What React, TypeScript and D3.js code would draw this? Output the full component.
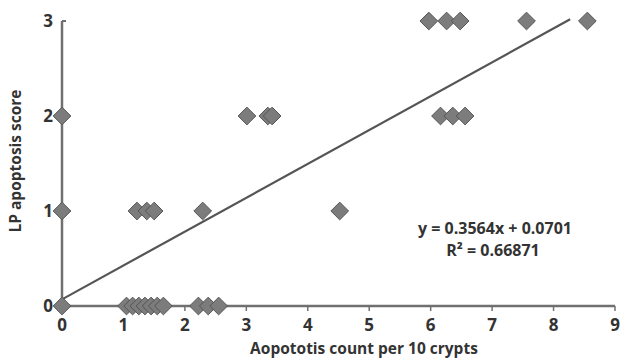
import * as d3 from "d3";

const apoptosisCount = [
  0, 0, 0,
  1.05, 1.15, 1.25, 1.35, 1.45, 1.55, 1.65, 2.22, 2.38, 2.55,
  1.22, 1.38, 1.5, 2.29, 4.52,
  3.01, 3.35, 3.42, 6.16, 6.36, 6.56,
  5.97, 6.26, 6.48, 7.56, 8.55,
];
const lpScore = [
  0, 1, 2,
  0, 0, 0, 0, 0, 0, 0, 0, 0, 0,
  1, 1, 1, 1, 1,
  2, 2, 2, 2, 2, 2,
  3, 3, 3, 3, 3,
];
const xTicks = [0, 1, 2, 3, 4, 5, 6, 7, 8, 9];
const yTicks = [0, 1, 2, 3];
const slope = 0.3564;
const intercept = 0.0701;
const trendEnd = 8.27;

export default function App() {
  const width = 620;
  const height = 360;
  const margin = { top: 21, right: 5, bottom: 54, left: 62 };

  const x = d3
    .scaleLinear()
    .domain([0, 9])
    .range([margin.left, width - margin.right]);
  const y = d3
    .scaleLinear()
    .domain([0, 3])
    .range([height - margin.bottom, margin.top]);

  const diamond = d3.symbol(d3.symbolDiamond2, 200)();
  const trend = d3
    .line<number>()
    .x((d) => x(d))
    .y((d) => y(slope * d + intercept));

  const font = "'Open Sans', 'Liberation Sans', sans-serif";
  const axisColor = "#707070";

  return (
    <svg
      width={width}
      height={height}
      style={{ position: "absolute", left: 0, top: 0, background: "#fff" }}
      fontFamily={font}
    >
      {/* axes */}
      <line x1={x(0)} x2={x(0)} y1={y(0)} y2={y(3)} stroke={axisColor} strokeWidth={2.5} />
      <line x1={x(0)} x2={x(0) + 4} y1={y(3)} y2={y(3)} stroke={axisColor} strokeWidth={2} />
      <line x1={x(0)} x2={x(9)} y1={y(0)} y2={y(0)} stroke={axisColor} strokeWidth={2.5} />
      {xTicks.map((t) => (
        <g key={t}>
          <line x1={x(t)} x2={x(t)} y1={y(0)} y2={y(0) + 5} stroke={axisColor} strokeWidth={1.5} />
          <text
            x={x(t)}
            y={y(0) + 25}
            textAnchor="middle"
            fontSize={17}
            fontWeight={700}
            fill="#333"
          >
            {t}
          </text>
        </g>
      ))}
      {yTicks.map((t) => (
        <text
          key={t}
          x={x(0) - 9}
          y={y(t) + 6}
          textAnchor="end"
          fontSize={17}
          fontWeight={700}
          fill="#333"
        >
          {t}
        </text>
      ))}

      {/* trend line */}
      <path d={trend([0, trendEnd]) ?? undefined} fill="none" stroke="#555" strokeWidth={2.2} />

      {/* points */}
      {apoptosisCount.map((v, i) => (
        <path
          key={i}
          d={diamond ?? undefined}
          transform={`translate(${x(v)},${y(lpScore[i])})`}
          fill="#7c7c7c"
          stroke="#555"
          strokeWidth={1}
        />
      ))}

      {/* equation */}
      <text x={495} y={234} textAnchor="middle" fontSize={16} fontWeight={700} fill="#333">
        y = 0.3564x + 0.0701
      </text>
      <text x={493} y={256} textAnchor="middle" fontSize={16} fontWeight={700} fill="#333">
        R² = 0.66871
      </text>

      {/* titles */}
      <text x={364} y={354} textAnchor="middle" fontSize={15.5} fontWeight={700} fill="#333">
        Aopototis count per 10 crypts
      </text>
      <text
        transform={`translate(21,${161}) rotate(-90)`}
        textAnchor="middle"
        fontSize={15.5}
        fontWeight={700}
        fill="#333"
      >
        LP apoptosis score
      </text>
    </svg>
  );
}
